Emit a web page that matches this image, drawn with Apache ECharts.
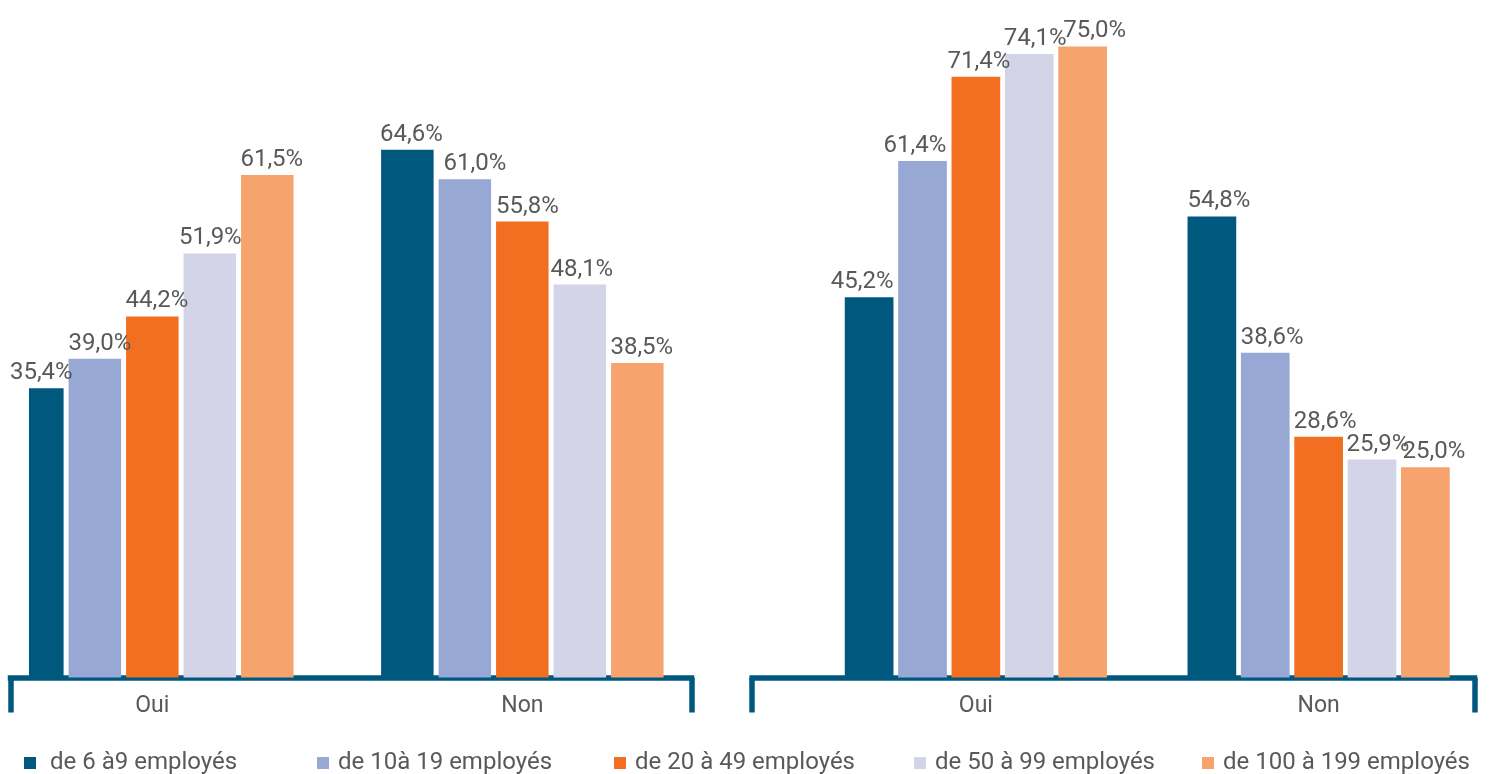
<!DOCTYPE html>
<html>
<head>
<meta charset="utf-8">
<script src="https://cdn.jsdelivr.net/npm/echarts@6/dist/echarts.min.js"></script>
<style>
html,body{margin:0;padding:0;background:#fff;}
#chart{width:1490px;height:774px;}
</style>
</head>
<body>
<div id="chart"></div>
<script>
const categories = ['Oui', 'Non'];
const seriesNames = ['de 6 à9 employés', 'de 10à 19 employés', 'de 20 à 49 employés', 'de 50 à 99 employés', 'de 100 à 199 employés'];
const leftValues = [
  [35.4, 64.6],
  [39.0, 61.0],
  [44.2, 55.8],
  [51.9, 48.1],
  [61.5, 38.5]
];
const rightValues = [
  [45.2, 54.8],
  [61.4, 38.6],
  [71.4, 28.6],
  [74.1, 25.9],
  [75.0, 25.0]
];

// styling: colours and horizontal nudges of the value labels (as placed in the original)
const colors = ['#01587F', '#97A8D5', '#F26F21', '#D4D4E9', '#F7A36D'];
const leftLabelDx = [[-5, 4], [5, 10], [4.5, 5], [0.5, 2], [4.5, 4.5]];
const rightLabelDx = [[-7, 7], [-7.5, 7], [3, 6.5], [6, 6], [12, 8.5]];

const FONT = 'Roboto';
const TXT = '#595959';
const AXISC = '#01587F';

function fmt(v) { return v.toFixed(1).replace('.', ',') + '%'; }

const labelStyle = {
  show: true, position: 'top', distance: 3,
  color: TXT, fontFamily: FONT, fontSize: 24,
  formatter: p => fmt(Array.isArray(p.value) ? p.value[1] : p.value)
};

const series = [];
seriesNames.forEach((name, i) => {
  series.push({
    name, type: 'bar', xAxisIndex: 0, yAxisIndex: 0, clip: true,
    stack: 'col' + i,
    barWidth: 52.5, barGap: '9.5%',
    itemStyle: { color: colors[i] },
    label: labelStyle,
    data: leftValues[i].map((v, k) => ({ value: [k, v], label: { offset: [leftLabelDx[i][k], 0] } }))
  });
});
// empty helper series (no visible mark) so the clip area is the exact plot area
series.push({
  name: '_clip', type: 'bar', xAxisIndex: 0, yAxisIndex: 0, stack: 'col0',
  barWidth: 52.5, silent: true, label: { show: false },
  data: [[0.0001, '-']]
});

seriesNames.forEach((name, i) => {
  series.push({
    name, type: 'bar', xAxisIndex: 1, yAxisIndex: 1,
    barWidth: 48.7, barGap: '9.6%',
    itemStyle: { color: colors[i] },
    label: labelStyle,
    data: rightValues[i].map((v, k) => ({ value: v, label: { offset: [rightLabelDx[i][k], 0] } }))
  });
});

const hiddenY = i => ({ gridIndex: i, type: 'value', min: 0, max: 80, show: false });
const bracketAxis = i => ({
  gridIndex: i, type: 'value', min: 0, max: 1, interval: 1,
  axisLine: { show: true, lineStyle: { color: AXISC, width: 5.5, cap: 'square' } },
  axisTick: { show: true, inside: false, length: 34.75, lineStyle: { color: AXISC, width: 5.5 } },
  axisLabel: { show: false }, splitLine: { show: false }
});

const legendPos = [24, 317, 614, 914, 1202];
const legends = seriesNames.map((name, i) => ({
  data: [name], left: legendPos[i], top: 751, padding: 0,
  icon: 'rect', itemWidth: 12, itemHeight: 12,
  selectedMode: true,
  textStyle: { color: TXT, fontFamily: FONT, fontSize: 24, padding: [0, 0, 0, i === 0 ? 9 : 4] }
}));

const option = {
  animation: false,
  backgroundColor: '#fff',
  textStyle: { fontFamily: FONT },
  grid: [
    { left: 29, top: 23.9, width: 678.33, height: 653.6 },
    { left: 804.5, top: 4.4, width: 688, height: 673.1 },
    { left: 10.5, top: 600, width: 681, height: 77.75 },
    { left: 752.2, top: 600, width: 722.3, height: 77.75 }
  ],
  xAxis: [
    {
      gridIndex: 0, type: 'value', min: -1 / 3, max: 1.5,
      axisLine: { show: false }, axisTick: { show: false }, splitLine: { show: false },
      axisLabel: {
        show: true, customValues: [0, 1], margin: 17,
        color: TXT, fontFamily: FONT, fontSize: 23,
        formatter: v => categories[Math.round(v)]
      }
    },
    {
      gridIndex: 1, type: 'category', data: categories,
      axisLine: { show: false }, axisTick: { show: false },
      axisLabel: { margin: 17, color: TXT, fontFamily: FONT, fontSize: 23 }
    },
    bracketAxis(2),
    bracketAxis(3)
  ],
  yAxis: [hiddenY(0), hiddenY(1), hiddenY(2), hiddenY(3)],
  legend: legends,
  series
};

const chart = echarts.init(document.getElementById('chart'), null, { renderer: 'canvas' });
chart.setOption(option);
</script>
</body>
</html>
